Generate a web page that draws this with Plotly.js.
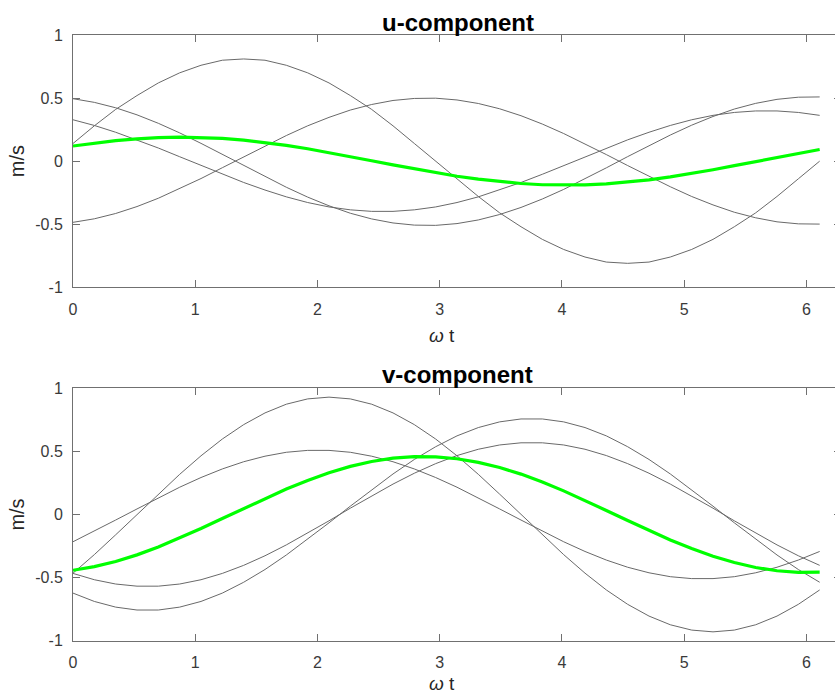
<!DOCTYPE html>
<html>
<head>
<meta charset="utf-8">
<script src="https://cdn.plot.ly/plotly-3.0.1.min.js"></script>
<style>
html, body { margin:0; padding:0; overflow:hidden; background:#fff; }
#chart { width:845px; height:697px; }
</style>
</head>
<body>
<div id="chart"></div>
<script>
// phase omega*t (rad), 36 samples
const t = [0, 0.1745, 0.3491, 0.5236, 0.6981, 0.8727, 1.0472, 1.2217, 1.3963, 1.5708, 1.7453, 1.9199,
  2.0944, 2.2689, 2.4435, 2.6180, 2.7925, 2.9671, 3.1416, 3.3161, 3.4907, 3.6652, 3.8397, 4.0143,
  4.1888, 4.3633, 4.5379, 4.7124, 4.8869, 5.0615, 5.2360, 5.4105, 5.5851, 5.7596, 5.9341, 6.1087];

// u-component, individual series (grey)
const uA = [0.14, 0.28, 0.41, 0.52, 0.62, 0.70, 0.76, 0.80, 0.81, 0.80, 0.76, 0.70,
  0.62, 0.52, 0.41, 0.28, 0.14, 0.00, -0.14, -0.28, -0.41, -0.52, -0.62, -0.70,
  -0.76, -0.80, -0.81, -0.80, -0.76, -0.70, -0.62, -0.52, -0.41, -0.28, -0.14, 0.00];
const uB = [0.495, 0.466, 0.423, 0.367, 0.300, 0.224, 0.141, 0.053, -0.036, -0.123, -0.207, -0.285,
  -0.354, -0.413, -0.458, -0.490, -0.507, -0.509, -0.495, -0.466, -0.423, -0.367, -0.300, -0.224,
  -0.141, -0.053, 0.036, 0.123, 0.207, 0.285, 0.354, 0.413, 0.458, 0.490, 0.507, 0.509];
const uC = [0.328, 0.283, 0.229, 0.169, 0.104, 0.035, -0.035, -0.104, -0.169, -0.229, -0.283, -0.328,
  -0.363, -0.386, -0.398, -0.398, -0.386, -0.363, -0.328, -0.283, -0.229, -0.169, -0.104, -0.035,
  0.035, 0.104, 0.169, 0.229, 0.283, 0.328, 0.363, 0.386, 0.398, 0.398, 0.386, 0.363];
const uD = [-0.485, -0.457, -0.415, -0.360, -0.294, -0.219, -0.138, -0.052, 0.035, 0.121, 0.203, 0.280,
  0.347, 0.405, 0.449, 0.481, 0.497, 0.499, 0.485, 0.457, 0.415, 0.360, 0.294, 0.219,
  0.138, 0.052, -0.035, -0.121, -0.203, -0.280, -0.347, -0.405, -0.449, -0.481, -0.497, -0.499];
// u-component, mean (green)
const uMean = [0.120, 0.143, 0.163, 0.177, 0.187, 0.190, 0.188, 0.180, 0.166, 0.148, 0.125, 0.098,
  0.068, 0.036, 0.003, -0.030, -0.062, -0.092, -0.120, -0.143, -0.163, -0.177, -0.187, -0.190,
  -0.188, -0.180, -0.166, -0.148, -0.125, -0.098, -0.068, -0.036, -0.003, 0.030, 0.062, 0.092];

// v-component, individual series (grey)
const vE = [-0.465, -0.318, -0.161, 0.000, 0.161, 0.318, 0.465, 0.598, 0.712, 0.805, 0.874, 0.916,
  0.930, 0.916, 0.874, 0.805, 0.712, 0.598, 0.465, 0.318, 0.161, 0.000, -0.161, -0.318,
  -0.465, -0.598, -0.712, -0.805, -0.874, -0.916, -0.930, -0.916, -0.874, -0.805, -0.712, -0.598];
const vF = [-0.216, -0.132, -0.044, 0.044, 0.132, 0.216, 0.293, 0.361, 0.418, 0.462, 0.493, 0.508,
  0.508, 0.493, 0.462, 0.418, 0.361, 0.293, 0.216, 0.132, 0.044, -0.044, -0.132, -0.216,
  -0.293, -0.361, -0.418, -0.462, -0.493, -0.508, -0.508, -0.493, -0.462, -0.418, -0.361, -0.293];
const vG = [-0.467, -0.517, -0.551, -0.568, -0.568, -0.551, -0.517, -0.467, -0.403, -0.327, -0.241, -0.148,
  -0.050, 0.050, 0.148, 0.241, 0.327, 0.403, 0.467, 0.517, 0.551, 0.568, 0.568, 0.551,
  0.517, 0.467, 0.403, 0.327, 0.241, 0.148, 0.050, -0.050, -0.148, -0.241, -0.327, -0.403];
const vH = [-0.623, -0.689, -0.734, -0.757, -0.757, -0.734, -0.689, -0.623, -0.537, -0.436, -0.321, -0.197,
  -0.066, 0.066, 0.197, 0.321, 0.436, 0.537, 0.623, 0.689, 0.734, 0.757, 0.757, 0.734,
  0.689, 0.623, 0.537, 0.436, 0.321, 0.197, 0.066, -0.066, -0.197, -0.321, -0.436, -0.537];
// v-component, mean (green)
const vMean = [-0.442, -0.413, -0.372, -0.320, -0.257, -0.187, -0.111, -0.032, 0.048, 0.127, 0.202, 0.270,
  0.331, 0.381, 0.420, 0.446, 0.459, 0.457, 0.442, 0.413, 0.372, 0.320, 0.257, 0.187,
  0.111, 0.032, -0.048, -0.127, -0.202, -0.270, -0.331, -0.381, -0.420, -0.446, -0.459, -0.457];

const xTickVals = [0, 1, 2, 3, 4, 5, 6];
const xTickText = ['0', '1', '2', '3', '4', '5', '6'];
const yTickVals = [-1, -0.5, 0, 0.5, 1];
const yTickText = ['-1', '-0.5', '0', '0.5', '1'];
const panelTitles = ['u-component', 'v-component'];
const xLabel = '<i>ω</i> t';
const yLabel = 'm/s';

const FONT = 'Liberation Sans, Arial, Helvetica, sans-serif';
const grey = 'rgb(105,105,105)';
const green = '#00ff00';

function line(x, y, ax, isMean) {
  return {
    x: x, y: y, type: 'scatter', mode: 'lines',
    xaxis: ax[0], yaxis: ax[1], hoverinfo: 'skip',
    line: { color: isMean ? green : grey, width: isMean ? 3.2 : 1 }
  };
}

const data = [
  line(t, uA, ['x', 'y'], false),
  line(t, uB, ['x', 'y'], false),
  line(t, uC, ['x', 'y'], false),
  line(t, uD, ['x', 'y'], false),
  line(t, uMean, ['x', 'y'], true),
  line(t, vE, ['x2', 'y2'], false),
  line(t, vF, ['x2', 'y2'], false),
  line(t, vG, ['x2', 'y2'], false),
  line(t, vH, ['x2', 'y2'], false),
  line(t, vMean, ['x2', 'y2'], true)
];

const axColor = '#707070';
function xAxis(anchor) {
  return {
    anchor: anchor, domain: [0, 1], range: [0, 6.2832],
    showline: true, linecolor: axColor, linewidth: 1, mirror: 'ticks',
    ticks: 'inside', ticklen: 7, tickwidth: 1, tickcolor: axColor,
    tickmode: 'array', tickvals: xTickVals, ticktext: xTickText,
    ticklabelstandoff: 7,
    tickfont: { family: FONT, size: 16, color: '#3a3a3a' },
    showgrid: false, zeroline: false
  };
}
function yAxis(anchor, domain) {
  return {
    anchor: anchor, domain: domain, range: [-1, 1],
    showline: true, linecolor: axColor, linewidth: 1, mirror: 'ticks',
    ticks: 'inside', ticklen: 7, tickwidth: 1, tickcolor: axColor,
    tickmode: 'array', tickvals: yTickVals, ticktext: yTickText,
    ticklabelstandoff: 6,
    tickfont: { family: FONT, size: 16, color: '#3a3a3a' },
    title: { text: yLabel, font: { family: FONT, size: 20, color: '#262626' }, standoff: 5 },
    showgrid: false, zeroline: false
  };
}

const W = 845, H = 697;
const layout = {
  width: W, height: H,
  margin: { l: 73, r: 4, t: 0, b: 0 },
  paper_bgcolor: '#ffffff', plot_bgcolor: '#ffffff',
  showlegend: false,
  xaxis: xAxis('y'),
  yaxis: yAxis('x', [0.5878, 0.9498]),
  xaxis2: xAxis('y2'),
  yaxis2: yAxis('x2', [0.0808, 0.4429]),
  annotations: [
    { text: '<b>' + panelTitles[0] + '</b>', xref: 'paper', yref: 'paper', x: 0.501, y: 1 - 22 / H,
      xanchor: 'center', yanchor: 'middle', showarrow: false, font: { family: FONT, size: 24, color: '#000' } },
    { text: '<b>' + panelTitles[1] + '</b>', xref: 'paper', yref: 'paper', x: 0.501, y: 1 - 375 / H,
      xanchor: 'center', yanchor: 'middle', showarrow: false, font: { family: FONT, size: 24, color: '#000' } },
    { text: xLabel, xref: 'paper', yref: 'paper', x: (442 - 73) / 768, y: 1 - 335 / H,
      xanchor: 'center', yanchor: 'middle', showarrow: false, font: { family: FONT, size: 19, color: '#262626' } },
    { text: xLabel, xref: 'paper', yref: 'paper', x: (442 - 73) / 768, y: 1 / H,
      xanchor: 'center', yanchor: 'bottom', showarrow: false, font: { family: FONT, size: 19, color: '#262626' } }
  ]
};

Plotly.newPlot('chart', data, layout, { displayModeBar: false, staticPlot: true });
</script>
</body>
</html>
